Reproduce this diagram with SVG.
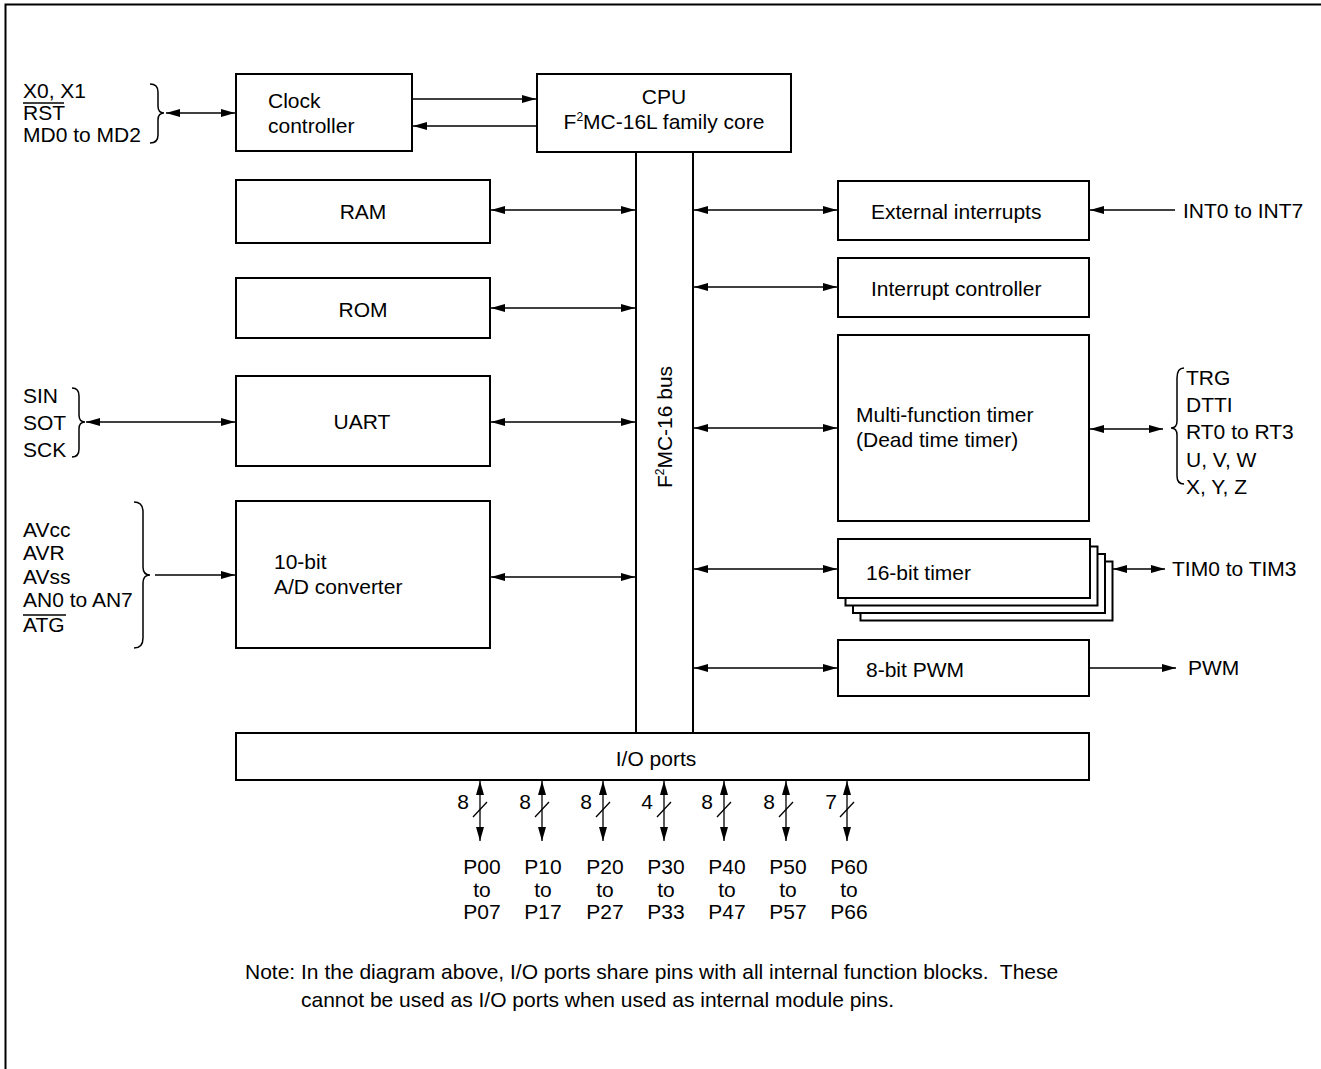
<svg xmlns="http://www.w3.org/2000/svg" width="1321" height="1069" viewBox="0 0 1321 1069">
<defs>
<style>
text{font-family:"Liberation Sans",Arial,sans-serif;font-size:21px;fill:#000}
.note{font-size:21px}
.box{fill:#fff;stroke:#000;stroke-width:2}
.ln{fill:none;stroke:#000;stroke-width:1.3}
.bus{fill:none;stroke:#000;stroke-width:2}
.br{fill:none;stroke:#000;stroke-width:1.5}
.c{text-anchor:middle}
</style>
<marker id="ah" markerWidth="14" markerHeight="8" refX="14" refY="4" orient="auto-start-reverse" markerUnits="userSpaceOnUse">
<path d="M0,0 L14,4 L0,8 z" fill="#000"/>
</marker>
</defs>
<rect width="1321" height="1069" fill="#fff"/>
<g id="frame"><path d="M5.5,1069 V4.5 H1321" fill="none" stroke="#000" stroke-width="2"/></g>

<g id="connectors">
<line class="ln" x1="412" y1="99" x2="536" y2="99" marker-end="url(#ah)"/>
<line class="ln" x1="537" y1="126" x2="413" y2="126" marker-end="url(#ah)"/>
<line class="ln" x1="166" y1="113" x2="235" y2="113" marker-start="url(#ah)" marker-end="url(#ah)"/>
<line class="ln" x1="86" y1="422" x2="235" y2="422" marker-start="url(#ah)" marker-end="url(#ah)"/>
<line class="ln" x1="155" y1="575" x2="235" y2="575" marker-end="url(#ah)"/>
<line class="ln" x1="491" y1="210" x2="635" y2="210" marker-start="url(#ah)" marker-end="url(#ah)"/>
<line class="ln" x1="491" y1="308" x2="635" y2="308" marker-start="url(#ah)" marker-end="url(#ah)"/>
<line class="ln" x1="491" y1="422" x2="635" y2="422" marker-start="url(#ah)" marker-end="url(#ah)"/>
<line class="ln" x1="491" y1="577" x2="635" y2="577" marker-start="url(#ah)" marker-end="url(#ah)"/>
<line class="ln" x1="694" y1="210" x2="837" y2="210" marker-start="url(#ah)" marker-end="url(#ah)"/>
<line class="ln" x1="694" y1="287" x2="837" y2="287" marker-start="url(#ah)" marker-end="url(#ah)"/>
<line class="ln" x1="694" y1="428" x2="837" y2="428" marker-start="url(#ah)" marker-end="url(#ah)"/>
<line class="ln" x1="694" y1="569" x2="837" y2="569" marker-start="url(#ah)" marker-end="url(#ah)"/>
<line class="ln" x1="694" y1="668" x2="837" y2="668" marker-start="url(#ah)" marker-end="url(#ah)"/>
<line class="ln" x1="1175" y1="210" x2="1090" y2="210" marker-end="url(#ah)"/>
<line class="ln" x1="1090" y1="429" x2="1163" y2="429" marker-start="url(#ah)" marker-end="url(#ah)"/>
<line class="ln" x1="1113" y1="569" x2="1165" y2="569" marker-start="url(#ah)" marker-end="url(#ah)"/>
<line class="ln" x1="1090" y1="668" x2="1176" y2="668" marker-end="url(#ah)"/>
<g id="port-arrows">
<line class="ln" x1="480" y1="781" x2="480" y2="841" marker-start="url(#ah)" marker-end="url(#ah)"/>
<line class="ln" x1="542" y1="781" x2="542" y2="841" marker-start="url(#ah)" marker-end="url(#ah)"/>
<line class="ln" x1="603" y1="781" x2="603" y2="841" marker-start="url(#ah)" marker-end="url(#ah)"/>
<line class="ln" x1="664" y1="781" x2="664" y2="841" marker-start="url(#ah)" marker-end="url(#ah)"/>
<line class="ln" x1="724" y1="781" x2="724" y2="841" marker-start="url(#ah)" marker-end="url(#ah)"/>
<line class="ln" x1="786" y1="781" x2="786" y2="841" marker-start="url(#ah)" marker-end="url(#ah)"/>
<line class="ln" x1="847" y1="781" x2="847" y2="841" marker-start="url(#ah)" marker-end="url(#ah)"/>
<path class="ln" d="M473,817 L487,802 M535,817 L549,802 M596,817 L610,802 M657,817 L671,802 M717,817 L731,802 M779,817 L793,802 M840,817 L854,802"/>
</g>
<g id="braces">
<path class="br" d="M150,84 Q158,84 158,92 L158,106 Q158,113 164,113 Q158,113 158,120 L158,135 Q158,143 150,143"/>
<path class="br" d="M72,388 Q79,388 79,396 L79,415 Q79,422 85,422 Q79,422 79,429 L79,449 Q79,457 72,457"/>
<path class="br" d="M134,502 Q143,502 143,512 L143,567 Q143,575 150,575 Q143,575 143,583 L143,638 Q143,648 134,648"/>
<path class="br" d="M1184,368 Q1177,368 1177,378 L1177,421 Q1177,428 1171,428 Q1177,428 1177,435 L1177,476 Q1177,484 1184,484"/>
</g>
</g>

<g id="bus"><path class="bus" d="M636,152 V733 M693,152 V733"/>
<text transform="translate(672,427) rotate(-90)" class="c">F<tspan font-size="12" dy="-8">2</tspan><tspan dy="8">MC-16 bus</tspan></text></g>

<g id="clock"><rect class="box" x="236" y="74" width="176" height="77"/><text x="268" y="108">Clock</text><text x="268" y="133">controller</text></g>
<g id="cpu"><rect class="box" x="537" y="74" width="254" height="78"/><text x="664" y="104" class="c">CPU</text><text x="664" y="129" class="c">F<tspan font-size="12" dy="-8">2</tspan><tspan dy="8">MC-16L family core</tspan></text></g>
<g id="ram"><rect class="box" x="236" y="180" width="254" height="63"/><text x="363" y="219" class="c">RAM</text></g>
<g id="rom"><rect class="box" x="236" y="278" width="254" height="60"/><text x="363" y="317" class="c">ROM</text></g>
<g id="uart"><rect class="box" x="236" y="376" width="254" height="90"/><text x="362" y="429" class="c">UART</text></g>
<g id="adc"><rect class="box" x="236" y="501" width="254" height="147"/><text x="274" y="569">10-bit</text><text x="274" y="594">A/D converter</text></g>
<g id="extint"><rect class="box" x="838" y="181" width="251" height="59"/><text x="871" y="219">External interrupts</text></g>
<g id="intctl"><rect class="box" x="838" y="258" width="251" height="59"/><text x="871" y="296">Interrupt controller</text></g>
<g id="mft"><rect class="box" x="838" y="335" width="251" height="186"/><text x="856" y="422">Multi-function timer</text><text x="856" y="447">(Dead time timer)</text></g>
<g id="timer16">
<rect class="box" x="860.5" y="561.5" width="252" height="59"/>
<rect class="box" x="853" y="554" width="252" height="59"/>
<rect class="box" x="845.5" y="546.5" width="252" height="59"/>
<rect class="box" x="838" y="539" width="252" height="59"/>
<text x="866" y="580">16-bit timer</text></g>
<g id="pwm"><rect class="box" x="838" y="640" width="251" height="56"/><text x="866" y="677">8-bit PWM</text></g>
<g id="io"><rect class="box" x="236" y="733" width="853" height="47"/><text x="656" y="766" class="c">I/O ports</text></g>

<g id="left-labels">
<text x="23" y="98">X0, X1</text>
<text x="23" y="120">RST</text><line x1="23" y1="103" x2="64" y2="103" stroke="#000" stroke-width="1.3"/>
<text x="23" y="142">MD0 to MD2</text>
<text x="23" y="403">SIN</text><text x="23" y="430">SOT</text><text x="23" y="457">SCK</text>
<text x="23" y="537">AVcc</text><text x="23" y="560">AVR</text><text x="23" y="584">AVss</text><text x="23" y="607">AN0 to AN7</text>
<text x="23" y="632">ATG</text><line x1="23" y1="615" x2="66" y2="615" stroke="#000" stroke-width="1.3"/>
</g>
<g id="right-labels">
<text x="1183" y="218">INT0 to INT7</text>
<text x="1186" y="385">TRG</text><text x="1186" y="412">DTTI</text><text x="1186" y="439">RT0 to RT3</text><text x="1186" y="467">U, V, W</text><text x="1186" y="494">X, Y, Z</text>
<text x="1172" y="576">TIM0 to TIM3</text>
<text x="1188" y="675">PWM</text>
</g>
<g id="port-labels">
<text x="463" y="809" class="c">8</text><text x="525" y="809" class="c">8</text><text x="586" y="809" class="c">8</text><text x="647" y="809" class="c">4</text><text x="707" y="809" class="c">8</text><text x="769" y="809" class="c">8</text><text x="831" y="809" class="c">7</text>
<text x="482" y="874" class="c">P00</text><text x="482" y="897" class="c">to</text><text x="482" y="919" class="c">P07</text>
<text x="543" y="874" class="c">P10</text><text x="543" y="897" class="c">to</text><text x="543" y="919" class="c">P17</text>
<text x="605" y="874" class="c">P20</text><text x="605" y="897" class="c">to</text><text x="605" y="919" class="c">P27</text>
<text x="666" y="874" class="c">P30</text><text x="666" y="897" class="c">to</text><text x="666" y="919" class="c">P33</text>
<text x="727" y="874" class="c">P40</text><text x="727" y="897" class="c">to</text><text x="727" y="919" class="c">P47</text>
<text x="788" y="874" class="c">P50</text><text x="788" y="897" class="c">to</text><text x="788" y="919" class="c">P57</text>
<text x="849" y="874" class="c">P60</text><text x="849" y="897" class="c">to</text><text x="849" y="919" class="c">P66</text>
</g>
<g id="note">
<text class="note" x="245" y="979" xml:space="preserve">Note: In the diagram above, I/O ports share pins with all internal function blocks.  These</text>
<text class="note" x="301" y="1007">cannot be used as I/O ports when used as internal module pins.</text>
</g>
</svg>
